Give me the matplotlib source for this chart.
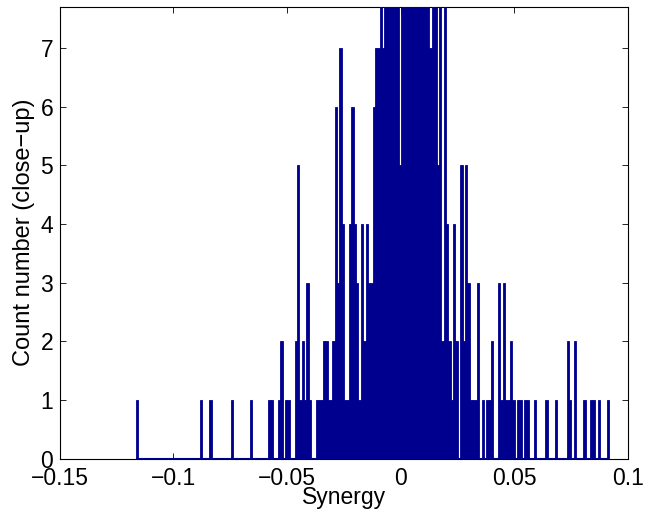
import numpy as np
import matplotlib
matplotlib.use("Agg")
import matplotlib.pyplot as plt

# histogram of synergy values, 200 bins between data min and max
syn_min = -0.1164
syn_max = 0.0918
n_bins = 200

# counts per bin (bins above the top are clipped)
counts = [
    1, 0, 0, 0, 0, 0, 0, 0, 0, 0, 0, 0, 0, 0, 0, 0, 0, 0, 0, 0,      # 0-19
    0, 0, 0, 0, 0, 0, 0, 1, 0, 0, 0, 1, 0, 0, 0, 0, 0, 0, 0, 0,      # 20-39
    1, 0, 0, 0, 0, 0, 0, 0, 1, 0, 0, 0, 0, 0, 0, 0, 1, 1, 0, 0,      # 40-59
    1, 2, 0, 1, 1, 0, 0, 2, 5, 1, 2, 1, 3, 1, 0, 0, 1, 1, 1, 2,      # 60-79
    2, 1, 1, 2, 6, 3, 7, 4, 1, 1, 4, 6, 4, 3, 1, 4, 2, 4, 3, 3,      # 80-99
    6, 7, 7, 9, 7, 8, 11, 10, 13, 12, 15, 5, 18, 16, 21, 19, 17, 14, 16, 12,  # 100-119
    13, 10, 11, 9, 7, 9, 8, 5, 8, 2, 9, 4, 2, 1, 4, 2, 0, 5, 2, 5,   # 120-139
    3, 1, 1, 1, 3, 0, 1, 0, 1, 1, 2, 0, 0, 3, 1, 3, 1, 1, 2, 1,      # 140-159
    0, 1, 1, 0, 1, 1, 0, 0, 1, 0, 0, 0, 0, 1, 0, 0, 0, 1, 0, 0,      # 160-179
    0, 0, 2, 1, 0, 2, 0, 0, 0, 1, 0, 0, 1, 1, 0, 1, 0, 0, 0, 1,      # 180-199
]

xticks = [-0.15, -0.1, -0.05, 0, 0.05, 0.1]
xtick_labels = ["\u22120.15", "\u22120.1", "\u22120.05", "0", "0.05", "0.1"]
yticks = [0, 1, 2, 3, 4, 5, 6, 7]

bar_color = "#00008f"

plt.rcParams["font.family"] = ["Liberation Sans", "DejaVu Sans"]

edges = np.linspace(syn_min, syn_max, n_bins + 1)
centers = (edges[:-1] + edges[1:]) / 2
width = edges[1] - edges[0]

fig = plt.figure(figsize=(6.6, 5.16), dpi=100)
ax = fig.add_axes([0.0902, 0.111, 0.8613, 0.876])

ax.bar(centers, counts, width=width, color=bar_color, edgecolor=bar_color,
       linewidth=0.6, zorder=3)
ax.hlines(0, edges[0], edges[-1], color=bar_color, linewidth=1.5, zorder=4)

ax.set_xlim(-0.15, 0.1)
ax.set_ylim(0, 7.7)
ax.set_xticks(xticks)
ax.set_xticklabels(xtick_labels)
ax.set_yticks(yticks)
ax.tick_params(direction="in", top=True, right=True, length=4, width=0.6,
               labelsize=16.5)
ax.tick_params(axis="x", pad=6)
ax.tick_params(axis="y", pad=4.5)
for s in ax.spines.values():
    s.set_linewidth(0.8)

ax.set_xlabel("Synergy", fontsize=16.5, labelpad=-3)
ax.set_ylabel("Count number (close\u2212up)", fontsize=17, labelpad=4)

fig.savefig("out.png", dpi=100)
